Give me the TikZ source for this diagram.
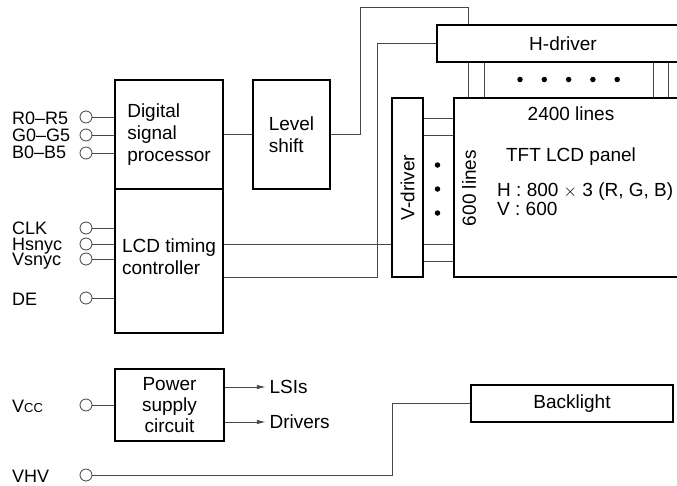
\documentclass[tikz,border=0pt]{standalone}
\usepackage{fontspec}
\setmainfont{Liberation Sans}
\usetikzlibrary{positioning, arrows.meta}

\begin{document}
\begin{tikzpicture}[
  x=1pt, y=-1pt,
  font=\fontsize{19}{22}\selectfont,
  box/.style={draw, line width=1.6pt, inner sep=0pt, align=center},
  wire/.style={draw=black!72, line width=0.9pt},
  port/.style={circle, draw=black!75, line width=0.8pt, inner sep=0pt,
    minimum size=12pt},
  lbl/.style={anchor=base west, inner sep=0pt},
  pin/.style={lbl, font=\fontsize{18}{18}\selectfont},
  dot/.style={circle, fill, inner sep=0pt, minimum size=5.5pt},
  arrow/.style={wire, -{Latex[length=9pt, width=4.5pt]}},
]
  \useasboundingbox (0,0) rectangle (677,485);
  \clip (0,0) rectangle (677,485);

  % Signal processing blocks
  \node[box, minimum width=108pt, minimum height=109pt, align=left]
    (dsp) at (169,134.5) {Digital\\signal\\processor};
  \node[box, minimum width=108pt, minimum height=144pt] (lcd) at (169,261) {};
  \node[align=left, inner sep=0pt] (lcdtxt) at (169,257) {LCD timing\\controller};
  \node[box, minimum width=77pt, minimum height=109pt, align=left]
    (lvl) at (291.5,134.5) {Level\\shift};

  % Drivers and panel
  \node[box, minimum width=252pt, minimum height=37pt] (hdrv) at (563,43.5) {H-driver};
  \node[box, minimum width=234pt, minimum height=179pt] (pnl) at (571,187.5) {};
  \node[box, minimum width=31pt, minimum height=179pt]
    (vdrv) at (407.5,187.5) {\rotatebox{90}{V-driver}};

  \node[anchor=base, inner sep=0pt] (hlines) at (571,120) {2400 lines};
  \node[anchor=base, inner sep=0pt] (pname) at (571,161) {TFT LCD panel};
  \node[lbl] (hres) at (497,196) {H : 800 $\times$ 3 (R, G, B)};
  \node[lbl] (vres) at (497,215) {V : 600};
  \node[rotate=90, inner sep=0pt] (vlines) at (469,188) {600 lines};

  \foreach \x in {468,484,653,668}
    \draw[wire] (\x,0 |- hdrv.south) -- (\x,0 |- pnl.north);
  \foreach \i in {0,...,4}
    \node[dot] (hd\i) at (520+24.3*\i,79.5) {};
  \foreach \y in {118,135,244,261}
    \draw[wire] (vdrv.east |- 0,\y) -- (pnl.west |- 0,\y);
  \foreach \i in {0,1,2}
    \node[dot] (vd\i) at (437.5,165+24*\i) {};

  % Power and backlight
  \node[box, minimum width=109pt, minimum height=72pt, font=\fontsize{19}{21}\selectfont]
    (psu) at (169.5,405) {Power\\supply\\circuit};
  \node[box, minimum width=202pt, minimum height=37pt] (blt) at (572,403.5) {Backlight};

  % Input terminals
  \node[port] (pR)   at (86,117) {};
  \node[port] (pG)   at (86,135) {};
  \node[port] (pB)   at (86,153) {};
  \node[port] (pclk) at (86,228) {};
  \node[port] (phs)  at (86,244) {};
  \node[port] (pvs)  at (86,259) {};
  \node[port] (pde)  at (86,298) {};
  \node[port] (pvcc) at (86,405) {};
  \node[port] (pvhv) at (86,475) {};

  \node[pin] (lR)   at (12,124) {R0--R5};
  \node[pin] (lG)   at (12,141) {G0--G5};
  \node[pin] (lB)   at (12,158) {B0--B5};
  \node[pin] (lclk) at (12,234) {CLK};
  \node[pin] (lhs)  at (12,250) {Hsnyc};
  \node[pin] (lvs)  at (12,265) {Vsnyc};
  \node[pin] (lde)  at (12,305) {DE};
  \node[pin] (lvcc) at (12,412) {V{\fontsize{13}{13}\selectfont CC}};
  \node[pin] (lvhv) at (12,482) {VHV};

  \foreach \p in {pR,pG,pB}
    \draw[wire] (\p) -- (\p -| dsp.west);
  \foreach \p in {pclk,phs,pvs,pde}
    \draw[wire] (\p) -- (\p -| lcd.west);
  \draw[wire] (pvcc) -- (psu.west);

  % Connections
  \draw[wire] (dsp.east) -- (lvl.west);
  \coordinate (hin) at (468,7);
  \draw[wire] (lvl.east) -- ++(30,0) |- (hin) -- (hin |- hdrv.north);
  \draw[wire] (lcd.east |- 0,244) -- (vdrv.west |- 0,244);
  \draw[wire] (lcd.east |- 0,277) -- (377,277) |- (hdrv.west);
  \draw[arrow] (psu.east |- 0,387) -- ++(41,0) node[right, draw=none] (lsi) {LSIs};
  \draw[arrow] (psu.east |- 0,422) -- ++(41,0) node[right, draw=none] (drv) {Drivers};
  \draw[wire] (pvhv) -| ([xshift=-78pt]blt.west) -- (blt.west);
\end{tikzpicture}
\end{document}
